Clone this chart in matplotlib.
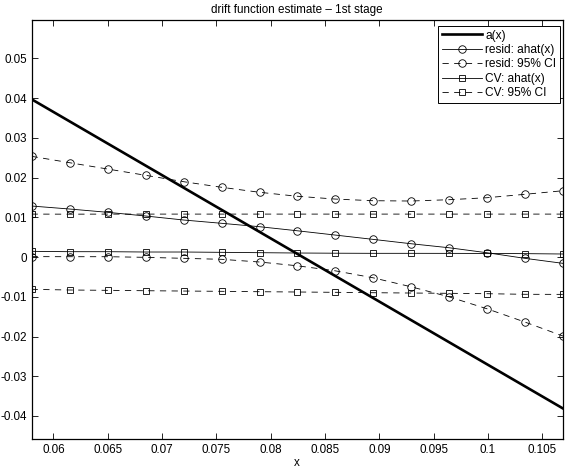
import matplotlib
matplotlib.use("Agg")
import matplotlib.pyplot as plt
import numpy as np

plt.rcParams['font.family'] = ['Liberation Sans', 'DejaVu Sans']
plt.rcParams['font.size'] = 8.4

# ---- data ----
x = [0.0580, 0.0615, 0.0650, 0.0685, 0.0720, 0.0755, 0.0790, 0.0824,
     0.0859, 0.0894, 0.0929, 0.0964, 0.0999, 0.1034, 0.1069]

a_x = [0.0580, 0.1069]
a_true = [0.0397, -0.0381]

resid_ahat = [0.01283, 0.01208, 0.01125, 0.01032, 0.00931, 0.00848, 0.00762, 0.00662,
              0.00554, 0.00445, 0.00335, 0.00234, 0.00108, -0.00033, -0.00159]
resid_upper = [0.02534, 0.02373, 0.02214, 0.02056, 0.01895, 0.01754, 0.01628, 0.01530,
               0.01459, 0.01417, 0.01409, 0.01442, 0.01492, 0.01578, 0.01668]
resid_lower = [0.00010, 0.00008, 0.00008, -0.00008, -0.00033, -0.00058, -0.00126, -0.00219,
               -0.00345, -0.00521, -0.00747, -0.01000, -0.01301, -0.01636, -0.01988]

cv_ahat = [0.00143, 0.00134, 0.00134, 0.00126, 0.00126, 0.00118, 0.00109, 0.00101,
           0.00096, 0.00093, 0.00093, 0.00092, 0.00090, 0.00085, 0.00076]
cv_upper = [0.01080, 0.01078, 0.01080, 0.01080, 0.01080, 0.01080, 0.01080, 0.01080,
            0.01080, 0.01080, 0.01080, 0.01080, 0.01080, 0.01080, 0.01080]
cv_lower = [-0.00813, -0.00830, -0.00838, -0.00848, -0.00856, -0.00863, -0.00873, -0.00880,
            -0.00888, -0.00898, -0.00906, -0.00913, -0.00923, -0.00938, -0.00940]

xticks = [0.06, 0.065, 0.07, 0.075, 0.08, 0.085, 0.09, 0.095, 0.1, 0.105]
xticklabels = ['0.06', '0.065', '0.07', '0.075', '0.08', '0.085', '0.09', '0.095', '0.1', '0.105']
yticks = [-0.04, -0.03, -0.02, -0.01, 0, 0.01, 0.02, 0.03, 0.04, 0.05]
yticklabels = ['-0.04', '-0.03', '-0.02', '-0.01', '0', '0.01', '0.02', '0.03', '0.04', '0.05']

# ---- figure ----
fig = plt.figure(figsize=(5.72, 4.74), dpi=100)
ax = fig.add_axes([31.7 / 572, 1 - 439 / 474, (562.7 - 31.7) / 572, (439 - 20) / 474])

dash = (0, (7.5, 6.5))
mk_c = dict(marker='o', markersize=5.4, markerfacecolor='none', markeredgecolor='k', markeredgewidth=0.6)
mk_s = dict(marker='s', markersize=4.4, markerfacecolor='none', markeredgecolor='k', markeredgewidth=0.6)

ax.plot(a_x, a_true, color='k', lw=1.9, label='a(x)')
ax.plot(x, resid_ahat, color='k', lw=0.6, label='resid: ahat(x)', **mk_c)
ax.plot(x, resid_upper, color='k', lw=0.6, linestyle=dash, label='resid: 95% CI', **mk_c)
ax.plot(x, cv_ahat, color='k', lw=0.6, label='CV: ahat(x)', **mk_s)
ax.plot(x, cv_upper, color='k', lw=0.6, linestyle=dash, label='CV: 95% CI', **mk_s)
ax.plot(x, resid_lower, color='k', lw=0.6, linestyle=dash, **mk_c)
ax.plot(x, cv_lower, color='k', lw=0.6, linestyle=dash, **mk_s)

ax.set_xlim(0.05801, 0.10688)
ax.set_ylim(-0.04579, 0.05964)
ax.set_xticks(xticks)
ax.set_xticklabels(xticklabels)
ax.set_yticks(yticks)
ax.set_yticklabels(yticklabels)
ax.tick_params(direction='in', length=4, width=0.6, top=True, right=True, pad=3.5, labelsize=8.4)
for s in ax.spines.values():
    s.set_linewidth(0.9)

ax.set_title('drift function estimate \u2013 1st stage', fontsize=8.4, pad=5)
ax.set_xlabel('x', fontsize=8.4, labelpad=1)

leg = ax.legend(loc='upper right', bbox_to_anchor=(0.9955, 0.9864), fontsize=8.6,
                frameon=True, fancybox=False, edgecolor='k', framealpha=1,
                handlelength=3.3, handletextpad=0.3, labelspacing=0.2,
                borderpad=0.33, borderaxespad=0.0, numpoints=1)
leg.get_frame().set_linewidth(0.7)

fig.savefig('out.png', dpi=100)
